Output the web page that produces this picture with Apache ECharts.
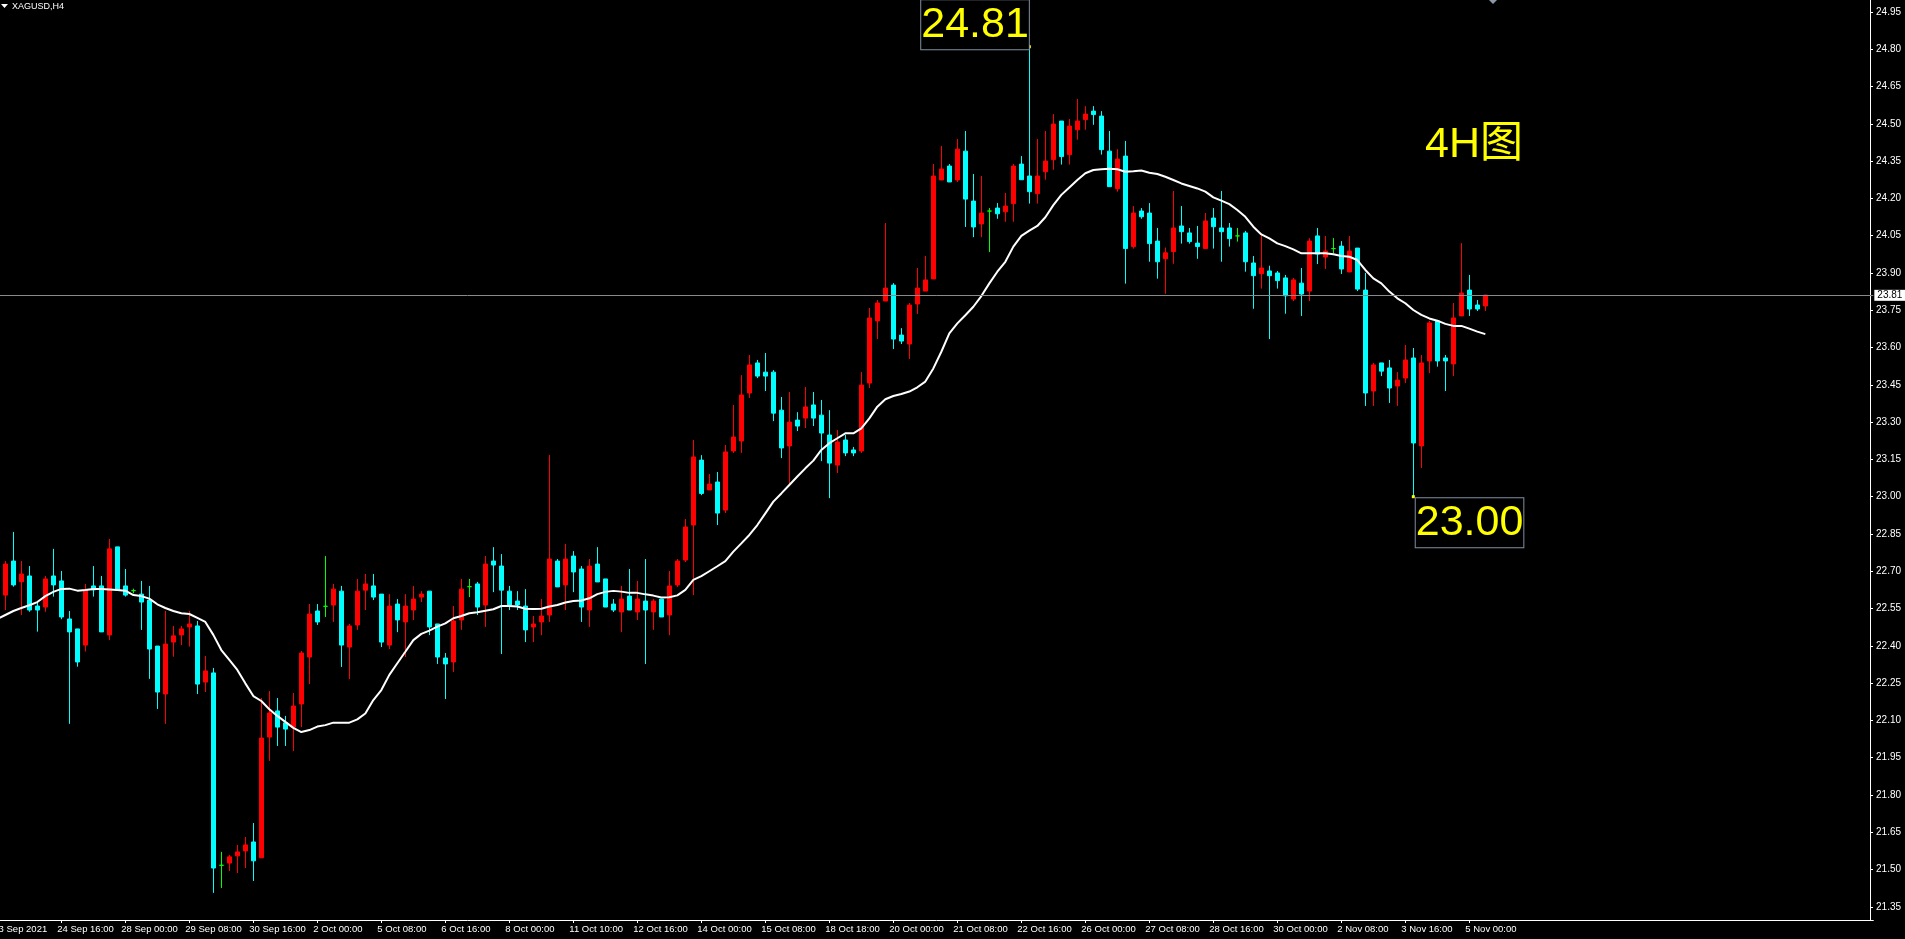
<!DOCTYPE html>
<html><head><meta charset="utf-8">
<script src="https://cdn.jsdelivr.net/npm/echarts@6/dist/echarts.min.js"></script>
<style>html,body{margin:0;padding:0;background:#000;overflow:hidden}#c{width:1905px;height:939px}</style>
</head><body><div id="c"></div>
<script>
const symbolName = 'XAGUSD,H4';
const periodNote = '4H图';
const bidPrice = 23.81;
const markedHighBar = 128;
const markedLowBar = 176;
const tickStep = 8;
const tickLabels = ['23 Sep 2021','24 Sep 16:00','28 Sep 00:00','29 Sep 08:00','30 Sep 16:00','2 Oct 00:00','5 Oct 08:00','6 Oct 16:00','8 Oct 00:00','11 Oct 10:00','12 Oct 16:00','14 Oct 00:00','15 Oct 08:00','18 Oct 18:00','20 Oct 00:00','21 Oct 08:00','22 Oct 16:00','26 Oct 00:00','27 Oct 08:00','28 Oct 16:00','30 Oct 00:00','2 Nov 08:00','3 Nov 16:00','5 Nov 00:00'];
const yTickValues = [21.35,21.50,21.65,21.80,21.95,22.10,22.25,22.40,22.55,22.70,22.85,23.00,23.15,23.30,23.45,23.60,23.75,23.90,24.05,24.20,24.35,24.50,24.65,24.80,24.95];

const open = [22.604,22.741,22.658,22.681,22.560,22.556,22.681,22.661,22.508,22.468,22.403,22.641,22.641,22.444,22.798,22.641,22.622,22.608,22.584,22.399,
22.206,22.415,22.444,22.476,22.480,22.254,22.291,21.517,21.526,21.555,21.575,21.611,21.547,22.033,22.138,22.090,22.073,22.166,22.355,22.540,
22.559,22.564,22.620,22.395,22.484,22.624,22.641,22.608,22.403,22.568,22.496,22.544,22.596,22.620,22.488,22.351,22.335,22.504,22.638,22.649,
22.564,22.741,22.721,22.620,22.580,22.560,22.476,22.496,22.524,22.741,22.645,22.761,22.709,22.544,22.729,22.669,22.568,22.536,22.600,22.536,
22.580,22.536,22.588,22.524,22.645,22.745,22.886,23.147,23.027,23.059,22.946,23.184,23.224,23.417,23.538,23.501,23.501,23.348,23.204,23.308,
23.316,23.369,23.328,23.248,23.127,23.228,23.188,23.184,23.457,23.707,23.787,23.851,23.650,23.614,23.775,23.827,23.876,24.274,24.330,24.274,
24.390,24.189,24.097,24.149,24.161,24.146,24.179,24.338,24.290,24.219,24.307,24.356,24.511,24.376,24.476,24.517,24.551,24.531,24.390,24.239,
24.370,24.006,24.149,24.141,24.028,23.957,23.986,24.089,24.061,24.020,23.998,24.121,24.081,24.081,24.049,24.061,23.940,23.897,23.908,23.900,
23.880,23.795,23.859,23.827,24.049,23.964,23.998,24.008,23.904,24.000,23.831,23.425,23.538,23.518,23.445,23.477,23.558,23.204,23.546,23.707,
23.558,23.534,23.727,23.831,23.771,23.767];
const high = [22.741,22.858,22.741,22.721,22.578,22.681,22.790,22.701,22.540,22.468,22.649,22.721,22.681,22.830,22.798,22.709,22.630,22.661,22.641,22.399,
22.540,22.480,22.480,22.540,22.500,22.359,22.311,21.571,21.559,21.599,21.631,21.687,22.190,22.218,22.190,22.118,22.210,22.379,22.568,22.568,
22.761,22.649,22.641,22.488,22.669,22.689,22.689,22.608,22.608,22.588,22.608,22.641,22.620,22.620,22.488,22.371,22.560,22.669,22.669,22.657,
22.761,22.797,22.769,22.641,22.620,22.628,22.520,22.588,23.168,22.749,22.810,22.781,22.721,22.749,22.797,22.669,22.588,22.641,22.709,22.661,
22.749,22.588,22.588,22.701,22.749,22.910,23.228,23.167,23.091,23.099,23.208,23.369,23.489,23.570,23.550,23.578,23.509,23.401,23.421,23.340,
23.441,23.421,23.389,23.348,23.268,23.248,23.200,23.501,23.759,23.791,24.101,23.859,23.678,23.779,23.920,23.968,24.338,24.411,24.338,24.439,
24.471,24.298,24.290,24.161,24.181,24.222,24.338,24.370,24.810,24.439,24.471,24.539,24.511,24.519,24.600,24.571,24.571,24.551,24.471,24.398,
24.431,24.169,24.161,24.181,24.081,24.002,24.230,24.169,24.081,24.089,24.141,24.161,24.230,24.101,24.081,24.069,23.968,24.057,23.929,23.908,
23.892,23.880,23.920,24.040,24.081,24.049,24.040,24.028,24.049,24.000,23.900,23.538,23.538,23.550,23.501,23.610,23.598,23.570,23.707,23.711,
23.570,23.779,24.020,23.892,23.791,23.811];
const low = [22.544,22.638,22.524,22.537,22.457,22.537,22.598,22.507,22.086,22.316,22.377,22.598,22.456,22.423,22.625,22.598,22.611,22.464,22.267,22.146,
22.086,22.356,22.403,22.397,22.206,22.214,21.406,21.426,21.494,21.486,21.506,21.454,21.547,21.937,21.997,21.997,21.977,22.073,22.246,22.484,
22.516,22.496,22.315,22.266,22.464,22.544,22.584,22.395,22.387,22.455,22.355,22.504,22.576,22.443,22.327,22.186,22.295,22.464,22.596,22.524,
22.476,22.616,22.367,22.544,22.544,22.415,22.415,22.443,22.496,22.637,22.544,22.616,22.496,22.476,22.657,22.556,22.536,22.455,22.544,22.504,
22.327,22.464,22.516,22.443,22.637,22.737,22.604,23.006,23.027,22.886,22.934,23.176,23.176,23.397,23.477,23.425,23.304,23.155,23.051,23.264,
23.276,23.284,23.143,22.994,23.095,23.163,23.163,23.176,23.437,23.634,23.787,23.594,23.614,23.554,23.735,23.827,23.876,24.274,24.266,24.266,
24.085,24.044,24.044,23.984,24.118,24.106,24.106,24.274,24.179,24.179,24.275,24.315,24.336,24.336,24.436,24.476,24.496,24.376,24.247,24.227,
23.857,23.998,24.118,23.945,23.877,23.816,23.937,24.018,24.018,23.957,23.998,23.998,23.945,24.006,24.026,23.905,23.756,23.837,23.634,23.837,
23.736,23.787,23.727,23.787,23.936,23.916,23.979,23.896,23.904,23.827,23.365,23.365,23.485,23.377,23.365,23.457,23.000,23.115,23.497,23.523,
23.425,23.485,23.727,23.727,23.747,23.747];
const close = [22.729,22.645,22.689,22.544,22.544,22.669,22.645,22.516,22.456,22.335,22.625,22.625,22.456,22.790,22.625,22.604,22.622,22.576,22.387,22.214,
22.407,22.440,22.468,22.488,22.246,22.299,21.506,21.517,21.551,21.571,21.599,21.535,22.029,22.130,22.073,22.065,22.158,22.371,22.528,22.496,
22.559,22.628,22.403,22.480,22.620,22.649,22.596,22.415,22.560,22.504,22.560,22.588,22.608,22.476,22.355,22.327,22.500,22.628,22.638,22.556,
22.729,22.725,22.624,22.564,22.564,22.464,22.488,22.520,22.749,22.637,22.749,22.697,22.556,22.721,22.657,22.556,22.544,22.588,22.544,22.588,
22.544,22.580,22.516,22.641,22.741,22.878,23.160,23.013,23.051,22.934,23.180,23.240,23.409,23.530,23.485,23.485,23.336,23.196,23.300,23.284,
23.361,23.316,23.256,23.135,23.220,23.176,23.176,23.449,23.719,23.779,23.839,23.634,23.626,23.771,23.839,23.872,24.290,24.318,24.266,24.398,
24.197,24.085,24.141,24.149,24.138,24.169,24.330,24.275,24.227,24.290,24.350,24.499,24.368,24.491,24.511,24.539,24.537,24.396,24.247,24.358,
23.998,24.141,24.126,24.018,23.945,23.981,24.081,24.066,24.026,24.006,24.109,24.086,24.066,24.038,24.049,23.945,23.889,23.920,23.889,23.869,
23.808,23.872,23.815,24.028,23.976,23.988,23.998,23.916,23.988,23.835,23.417,23.530,23.505,23.437,23.469,23.550,23.216,23.538,23.699,23.546,
23.546,23.719,23.819,23.755,23.755,23.811];
// moving average; first value is for the bar just left of the window
const ma = [22.508,
22.524,22.540,22.552,22.563,22.576,22.600,22.617,22.629,22.630,22.622,22.625,22.629,22.629,22.627,22.625,22.622,22.604,22.600,22.590,22.567,
22.552,22.540,22.531,22.528,22.512,22.496,22.444,22.383,22.343,22.303,22.249,22.198,22.178,22.145,22.118,22.094,22.070,22.053,22.061,22.075,
22.081,22.091,22.091,22.091,22.104,22.128,22.182,22.222,22.283,22.330,22.376,22.423,22.448,22.461,22.477,22.490,22.511,22.520,22.531,22.535,
22.541,22.547,22.560,22.560,22.558,22.549,22.548,22.549,22.558,22.564,22.574,22.580,22.582,22.591,22.608,22.617,22.621,22.618,22.613,22.613,
22.607,22.602,22.594,22.595,22.603,22.625,22.665,22.680,22.700,22.720,22.741,22.779,22.812,22.846,22.886,22.933,22.980,23.013,23.047,23.081,
23.114,23.145,23.188,23.215,23.235,23.255,23.255,23.275,23.315,23.362,23.392,23.405,23.413,23.423,23.440,23.463,23.516,23.583,23.657,23.697,
23.730,23.764,23.807,23.858,23.905,23.945,24.006,24.049,24.070,24.089,24.124,24.173,24.214,24.244,24.274,24.301,24.314,24.317,24.319,24.317,
24.307,24.309,24.312,24.303,24.298,24.287,24.274,24.260,24.250,24.240,24.227,24.204,24.191,24.177,24.153,24.126,24.086,24.055,24.039,24.019,
24.008,23.995,23.979,23.979,23.979,23.979,23.975,23.968,23.965,23.952,23.912,23.878,23.858,23.825,23.798,23.778,23.751,23.731,23.717,23.708,
23.695,23.687,23.687,23.676,23.664,23.654];

const TOTAL_SLOTS = 235;
const categories = Array.from({length: TOTAL_SLOTS}, (_, i) => String(i - 1));
const GREEN = '#00ff00';
const candleData = ['-'].concat(open.map((o, i) => {
  const item = {value: [o, close[i], low[i], high[i]]};
  if (o === close[i]) item.itemStyle = {color: GREEN, color0: GREEN, borderColor: GREEN, borderColor0: GREEN};
  return item;
}));

const FONT = '"Liberation Sans", Arial, sans-serif';
const bigLabel = (offset) => ({
  show: true, position: 'inside', offset,
  formatter: p => p.value.toFixed(2),
  color: '#ffff00', fontSize: 43, fontFamily: FONT, lineHeight: 43,
  backgroundColor: '#000', borderColor: '#8090a0', borderWidth: 1, padding: [3, 0, 3, 0]
});
const tickShown = (i) => i % tickStep === 0 && i / tickStep < tickLabels.length;

const chart = echarts.init(document.getElementById('c'), null, {renderer: 'canvas'});
chart.setOption({
  backgroundColor: '#000',
  animation: false,
  grid: {left: -6.67, top: 0, width: 1880, height: 920, containLabel: false, outerBoundsMode: 'none'},
  xAxis: {
    type: 'category', data: categories, boundaryGap: true,
    axisLine: {show: true, lineStyle: {color: '#ffffff', width: 1}},
    axisTick: {show: true, alignWithLabel: true, length: 3, lineStyle: {color: '#ffffff'}, interval: tickShown},
    axisLabel: {show: true, color: '#ffffff', fontSize: 9.5, fontFamily: FONT, align: 'left', margin: 4,
      padding: [0, 0, 0, -4], interval: tickShown, hideOverlap: false,
      formatter: (v, i) => tickLabels[i / tickStep] || ''},
    splitLine: {show: false}
  },
  yAxis: {
    type: 'value', position: 'right', offset: -3.3, min: 21.297, max: 24.998, scale: true,
    axisLine: {show: true, lineStyle: {color: '#ffffff', width: 1}},
    axisTick: {show: true, inside: false, length: 3, lineStyle: {color: '#ffffff'}, customValues: yTickValues},
    axisLabel: {show: true, color: '#ffffff', fontSize: 10, fontFamily: FONT, margin: 6,
      customValues: yTickValues, formatter: v => v.toFixed(2)},
    splitLine: {show: false}
  },
  title: {text: symbolName, left: 12, top: 2, padding: 0,
    textStyle: {color: '#ffffff', fontSize: 9, fontWeight: 'normal', fontFamily: FONT}},
  graphic: [
    {type: 'polygon', shape: {points: [[1, 4], [8, 4], [4.5, 8]]}, style: {fill: '#ffffff'}},
    {type: 'polygon', shape: {points: [[1489, 0], [1497, 0], [1493, 4]]}, style: {fill: '#8c9aa8'}},
    {type: 'text', x: 1425, y: 145, style: {text: periodNote, fill: '#ffff00',
      font: '43px "Liberation Sans", "Noto Sans CJK SC", sans-serif', textVerticalAlign: 'middle'}}
  ],
  series: [
    {
      type: 'candlestick', data: candleData, barWidth: 4, z: 2,
      itemStyle: {color: '#ff0000', color0: '#00ffff', borderColor: '#ff0000', borderColor0: '#00ffff',
        borderColorDoji: GREEN, borderWidth: 1},
      emphasis: {disabled: true},
      markLine: {
        silent: true, symbol: ['none', 'none'], animation: false,
        lineStyle: {color: '#8a8a8a', width: 1, type: 'solid'},
        label: {show: true, position: 'end', distance: 1, formatter: p => p.value.toFixed(2),
          backgroundColor: '#ffffff', color: '#000000', fontSize: 10, fontFamily: FONT, padding: [1, 3, 0, 3]},
        data: [{yAxis: bidPrice}]
      },
      markPoint: {
        silent: true, symbol: 'rect', symbolSize: 3, itemStyle: {color: '#ffff00'}, animation: false,
        data: [
          {coord: [String(markedHighBar), high[markedHighBar]], value: high[markedHighBar], label: bigLabel([-54.3, -21.9])},
          {coord: [String(markedLowBar), low[markedLowBar]], value: low[markedLowBar], label: bigLabel([56.2, 26.1])}
        ]
      }
    },
    {
      type: 'line', data: ma, showSymbol: false, silent: true, z: 3,
      lineStyle: {color: '#ffffff', width: 2}
    }
  ]
});
</script>
</body></html>
